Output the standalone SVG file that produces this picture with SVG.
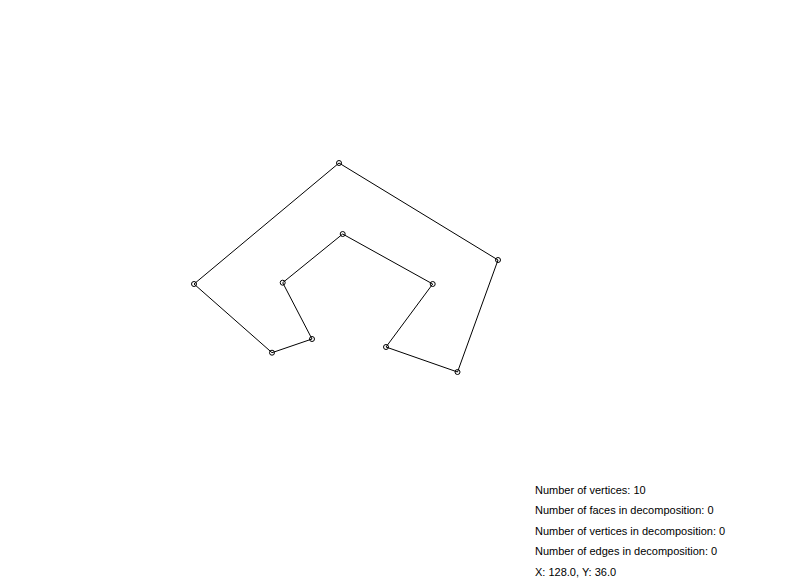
<svg xmlns="http://www.w3.org/2000/svg" width="790" height="588" viewBox="0 0 790 588">
<style>
.e{stroke:#000;stroke-width:1;fill:none}
.v{stroke:#000;stroke-width:1;fill:none}
.t{font-family:"Liberation Sans",Arial,sans-serif;font-size:11px;fill:#000}
</style>
<rect width="790" height="588" fill="#fff"/>
<g id="edges">
<polygon class="e" points="339,163 498,260 457.5,372 386,347 432.7,284 342.7,234 282.7,282.7 312,339 272,352.7 194,284"/>
</g>
<g id="v1"><circle class="v" cx="339" cy="163" r="2.5"/></g>
<g id="v2"><circle class="v" cx="498" cy="260" r="2.5"/></g>
<g id="v3"><circle class="v" cx="457.5" cy="372" r="2.5"/></g>
<g id="v4"><circle class="v" cx="386" cy="347" r="2.5"/></g>
<g id="v5"><circle class="v" cx="432.7" cy="284" r="2.5"/></g>
<g id="v6"><circle class="v" cx="342.7" cy="234" r="2.5"/></g>
<g id="v7"><circle class="v" cx="282.7" cy="282.7" r="2.5"/></g>
<g id="v8"><circle class="v" cx="312" cy="339" r="2.5"/></g>
<g id="v9"><circle class="v" cx="272" cy="352.7" r="2.5"/></g>
<g id="v10"><circle class="v" cx="194" cy="284" r="2.5"/></g>
<g id="info">
<text class="t" x="535" y="494">Number of vertices: 10</text>
<text class="t" x="535" y="514">Number of faces in decomposition: 0</text>
<text class="t" x="535" y="535">Number of vertices in decomposition: 0</text>
<text class="t" x="535" y="555">Number of edges in decomposition: 0</text>
<text class="t" x="535" y="576">X: 128.0, Y: 36.0</text>
</g>
</svg>
